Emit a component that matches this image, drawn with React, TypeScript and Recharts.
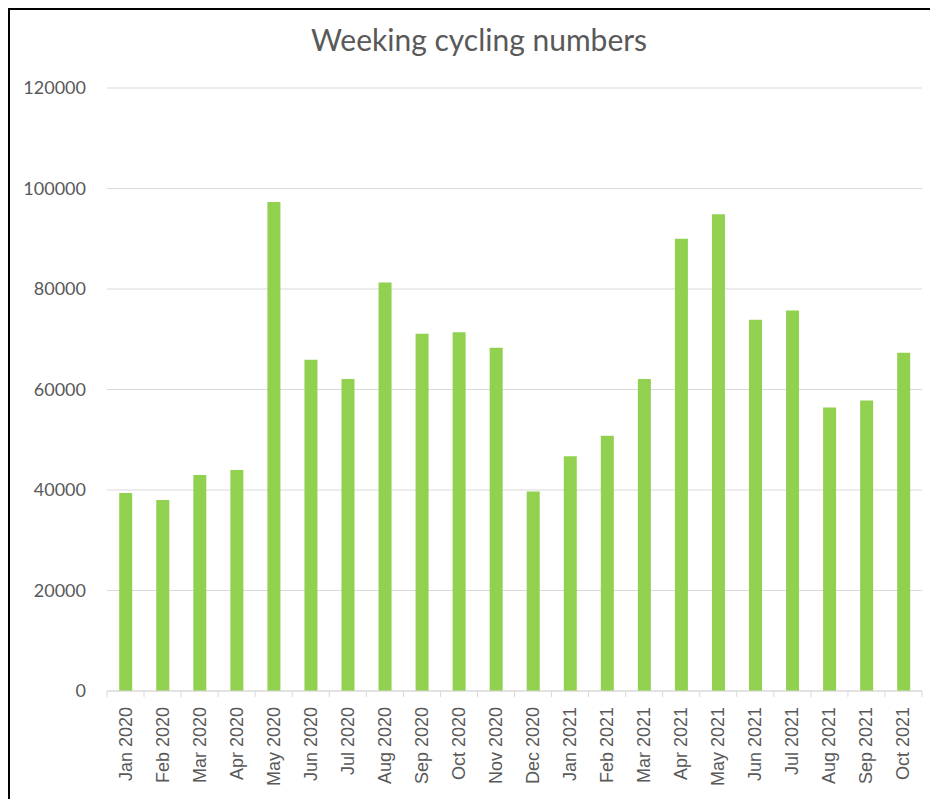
import { BarChart, Bar, XAxis, YAxis, CartesianGrid } from 'recharts';

const months = [
  'Jan 2020', 'Feb 2020', 'Mar 2020', 'Apr 2020', 'May 2020', 'Jun 2020', 'Jul 2020', 'Aug 2020',
  'Sep 2020', 'Oct 2020', 'Nov 2020', 'Dec 2020', 'Jan 2021', 'Feb 2021', 'Mar 2021', 'Apr 2021',
  'May 2021', 'Jun 2021', 'Jul 2021', 'Aug 2021', 'Sep 2021', 'Oct 2021',
];

const riders = [
  39400, 38000, 43000, 44000, 97300, 65900, 62100, 81300, 71100, 71400, 68300,
  39700, 46700, 50800, 62100, 90000, 94900, 73900, 75700, 56400, 57800, 67300,
];

const yTicks = [0, 20000, 40000, 60000, 80000, 100000, 120000];

const data = months.map((month, i) => ({ month, riders: riders[i] }));

const TEXT = '#595959';
const GRID = '#d9d9d9';
const FONT = 'Lato, "Open Sans", sans-serif';
const LABEL_FONT = '"Liberation Sans", Arial, sans-serif';

// rotated month label plus an Excel-style tick mark between categories
function MonthTick(props: any) {
  const { x, y, payload, index } = props;
  const half = payload.offset || 0;
  const last = index === months.length - 1;
  return (
    <g>
      <line x1={x - half} x2={x - half} y1={y - 8} y2={y - 2} stroke={GRID} />
      {last && <line x1={x + half} x2={x + half} y1={y - 8} y2={y - 2} stroke={GRID} />}
      <text
        x={x}
        y={y}
        transform={`rotate(-90, ${x}, ${y})`}
        textAnchor="end"
        dominantBaseline="central"
        fill={TEXT}
        fontSize={18}
        fontFamily={LABEL_FONT}
        dx={-8}
      >
        {payload.value}
      </text>
    </g>
  );
}

export default function App() {
  return (
    <div
      style={{
        position: 'relative',
        width: 940,
        height: 800,
        border: '2px solid #000',
        background: '#fff',
        boxSizing: 'border-box',
      }}
    >
      <div
        style={{
          position: 'absolute',
          top: 11,
          left: 0,
          width: 938,
          textAlign: 'center',
          fontFamily: FONT,
          fontSize: 30,
          color: TEXT,
        }}
      >
        Weeking cycling numbers
      </div>
      <BarChart
        width={928}
        height={789}
        data={data}
        margin={{ top: 78, right: 16, bottom: 0, left: 0 }}
        barCategoryGap="33%"
      >
        <CartesianGrid vertical={false} stroke={GRID} />
        <XAxis
          dataKey="month"
          interval={0}
          height={108}
          stroke={GRID}
          tickLine={false}
          tick={<MonthTick />}
        />
        <YAxis
          domain={[0, 120000]}
          ticks={yTicks}
          width={97}
          axisLine={false}
          tickLine={false}
          tickMargin={15}
          tick={{ fill: TEXT, fontSize: 18, fontFamily: FONT }}
        />
        <Bar dataKey="riders" fill="#92d050" isAnimationActive={false} />
      </BarChart>
    </div>
  );
}
